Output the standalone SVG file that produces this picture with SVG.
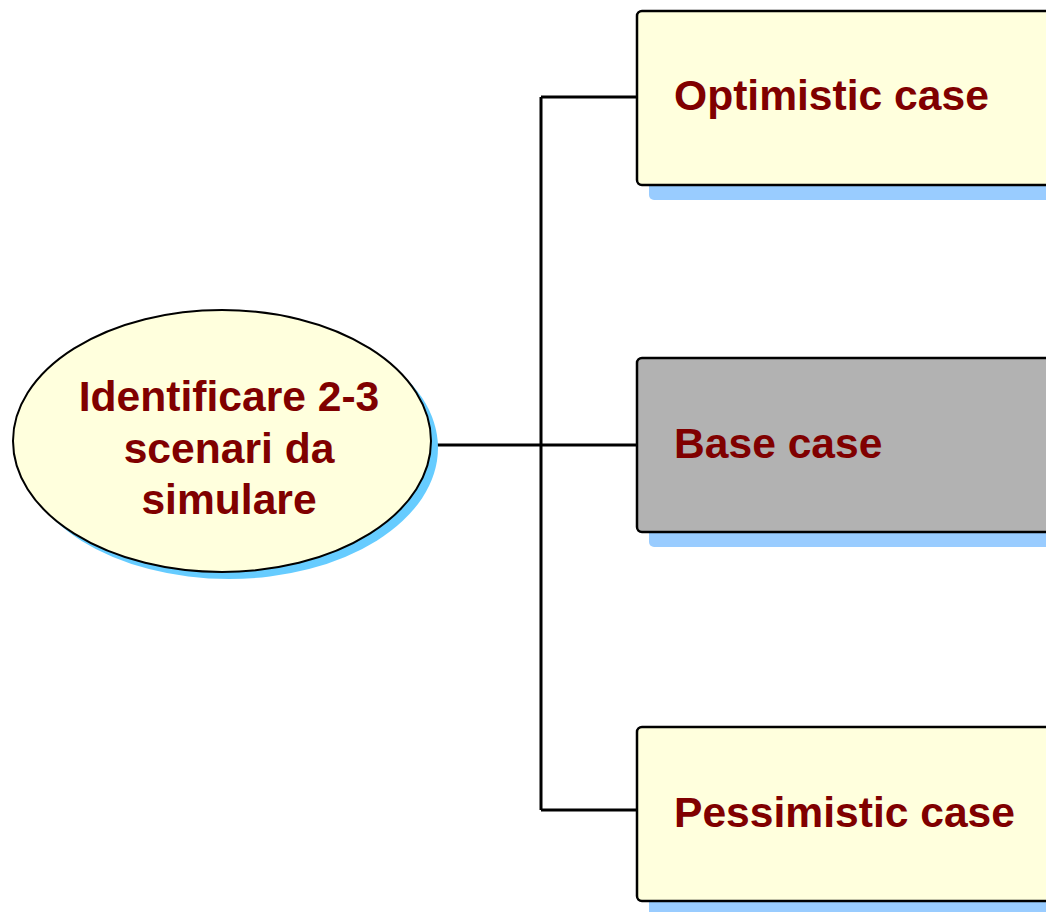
<svg xmlns="http://www.w3.org/2000/svg" width="1046" height="912" viewBox="0 0 1046 912">
<style>
.shadow{fill:#99ccff}
.box{stroke:#000;stroke-width:2.5}
.y{fill:#ffffdd}
.g{fill:#b2b2b2}
.t{font-family:"Liberation Sans",Arial,sans-serif;font-weight:bold;font-size:42.6px;fill:#800000}
.conn{fill:none;stroke:#000;stroke-width:3}
</style>
<rect width="1046" height="912" fill="#fff"/>
<g id="connectors">
<path class="conn" d="M431,445 H637 M541,97 V810 M541,97 H637 M541,810 H637"/>
</g>
<g id="root">
<ellipse cx="229" cy="448" rx="209" ry="131" fill="#66ccff"/>
<ellipse cx="222" cy="441" rx="209" ry="131" fill="#ffffdd" stroke="#000" stroke-width="2"/>
<text class="t" text-anchor="middle" x="229" y="411">Identificare 2-3</text>
<text class="t" text-anchor="middle" x="229" y="463">scenari da</text>
<text class="t" text-anchor="middle" x="229" y="514">simulare</text>
</g>
<g id="optimistic">
<rect class="shadow" x="649" y="26" width="420" height="174" rx="5"/>
<rect class="box y" x="637" y="11" width="420" height="174" rx="5"/>
<text class="t" x="674" y="110">Optimistic case</text>
</g>
<g id="base">
<rect class="shadow" x="649" y="373" width="420" height="174" rx="5"/>
<rect class="box g" x="637" y="358" width="420" height="174" rx="5"/>
<text class="t" x="674" y="458">Base case</text>
</g>
<g id="pessimistic">
<rect class="shadow" x="649" y="742" width="420" height="174" rx="5"/>
<rect class="box y" x="637" y="727" width="420" height="174" rx="5"/>
<text class="t" x="674" y="827">Pessimistic case</text>
</g>
</svg>
